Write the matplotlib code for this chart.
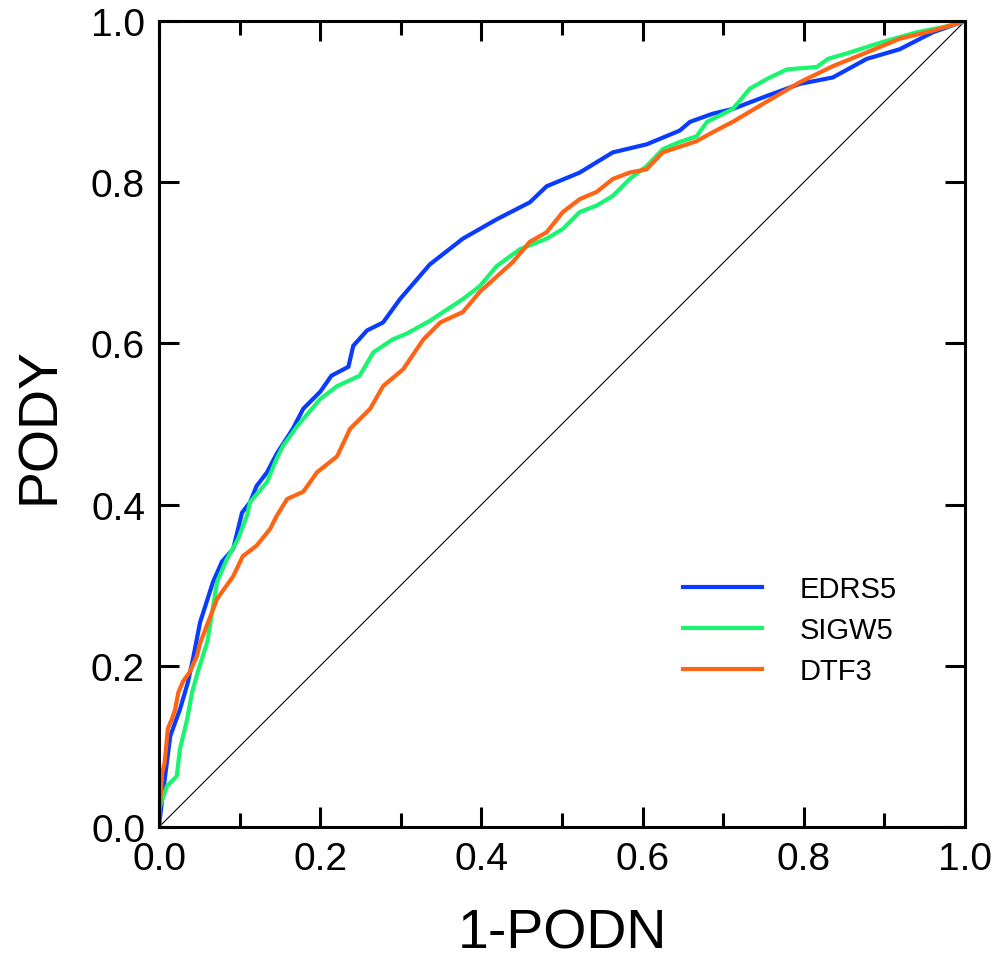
import matplotlib
matplotlib.use("Agg")
import matplotlib.pyplot as plt
from matplotlib.ticker import MultipleLocator

plt.rcParams['font.family'] = ['Liberation Sans', 'DejaVu Sans']

# EDRS5
edrs_x = [0, 0.004, 0.014, 0.026, 0.036, 0.042, 0.051, 0.067, 0.078, 0.092, 0.103, 0.113, 0.121,
          0.134, 0.146, 0.166, 0.179, 0.2, 0.214, 0.235, 0.241, 0.258, 0.278, 0.299, 0.336, 0.377,
          0.419, 0.46, 0.481, 0.522, 0.563, 0.605, 0.646, 0.659, 0.687, 0.712, 0.754, 0.795, 0.836,
          0.878, 0.919, 0.96, 1.0]
edrs_y = [0, 0.035, 0.113, 0.146, 0.18, 0.208, 0.254, 0.304, 0.329, 0.345, 0.39, 0.403, 0.423,
          0.44, 0.463, 0.494, 0.519, 0.54, 0.56, 0.571, 0.597, 0.616, 0.626, 0.655, 0.698, 0.73,
          0.754, 0.775, 0.795, 0.812, 0.837, 0.847, 0.864, 0.875, 0.885, 0.891, 0.907, 0.922, 0.93,
          0.953, 0.965, 0.986, 1.0]

# SIGW5
sigw_x = [0, 0, 0.01, 0.022, 0.026, 0.035, 0.041, 0.048, 0.06, 0.072, 0.084, 0.098, 0.109, 0.113,
          0.134, 0.146, 0.154, 0.172, 0.2, 0.221, 0.249, 0.266, 0.29, 0.307, 0.336, 0.377, 0.398,
          0.419, 0.448, 0.481, 0.501, 0.522, 0.543, 0.563, 0.584, 0.605, 0.625, 0.646, 0.667, 0.68,
          0.712, 0.733, 0.754, 0.779, 0.816, 0.83, 0.857, 0.898, 0.94, 0.981, 1.0]
sigw_y = [0, 0.022, 0.051, 0.063, 0.097, 0.134, 0.167, 0.192, 0.23, 0.304, 0.332, 0.357, 0.386, 0.403,
          0.428, 0.457, 0.473, 0.498, 0.531, 0.547, 0.56, 0.589, 0.605, 0.612, 0.628, 0.655, 0.671,
          0.696, 0.717, 0.73, 0.742, 0.763, 0.771, 0.783, 0.804, 0.82, 0.841, 0.85, 0.857, 0.875,
          0.891, 0.916, 0.928, 0.94, 0.943, 0.953, 0.961, 0.974, 0.986, 0.994, 1.0]

# DTF3
dtf_x = [0, 0, 0.004, 0.007, 0.011, 0.016, 0.02, 0.024, 0.03, 0.038, 0.047, 0.051, 0.072, 0.092,
         0.104, 0.121, 0.138, 0.146, 0.159, 0.179, 0.196, 0.221, 0.237, 0.262, 0.278, 0.303, 0.328,
         0.349, 0.377, 0.398, 0.439, 0.46, 0.481, 0.501, 0.522, 0.543, 0.563, 0.584, 0.605, 0.625,
         0.667, 0.687, 0.712, 0.754, 0.795, 0.836, 0.878, 0.919, 0.96, 1.0]
dtf_y = [0, 0.01, 0.068, 0.08, 0.122, 0.134, 0.146, 0.167, 0.181, 0.192, 0.212, 0.228, 0.283, 0.311,
         0.336, 0.349, 0.37, 0.386, 0.407, 0.416, 0.44, 0.46, 0.494, 0.519, 0.547, 0.568, 0.605,
         0.626, 0.639, 0.664, 0.701, 0.726, 0.738, 0.763, 0.779, 0.788, 0.804, 0.812, 0.816, 0.837,
         0.851, 0.862, 0.875, 0.9, 0.924, 0.944, 0.961, 0.978, 0.988, 1.0]

fig = plt.figure(figsize=(10, 9.62), dpi=100)
ax = fig.add_axes([0.159, 0.1393, 0.806, 0.8378])

ax.plot([0, 1], [0, 1], color='black', lw=0.8)
ax.plot(edrs_x, edrs_y, color='#0a3cff', lw=3, label='EDRS5')
ax.plot(sigw_x, sigw_y, color='#19f56e', lw=3, label='SIGW5')
ax.plot(dtf_x, dtf_y, color='#ff6414', lw=3, label='DTF3')

ax.set_xlim(0, 1)
ax.set_ylim(0, 1)
ax.xaxis.set_major_locator(MultipleLocator(0.2))
ax.xaxis.set_minor_locator(MultipleLocator(0.1))
ax.yaxis.set_major_locator(MultipleLocator(0.2))
ax.tick_params(which='both', direction='in', top=True, right=True, width=2.2, labelsize=28)
ax.tick_params(which='major', length=14.5, pad=10)
ax.tick_params(which='minor', length=10)
for s in ax.spines.values():
    s.set_linewidth(2.2)

ax.set_xlabel('1-PODN', fontsize=40, labelpad=22)
ax.set_ylabel('PODY', fontsize=40, labelpad=18)

ax.legend(loc='upper left', bbox_to_anchor=(0.632, 0.331), frameon=False, fontsize=21,
          handlelength=2.7, handletextpad=1.3, labelspacing=0.45, borderpad=0)

fig.savefig('out.png', dpi=100)
